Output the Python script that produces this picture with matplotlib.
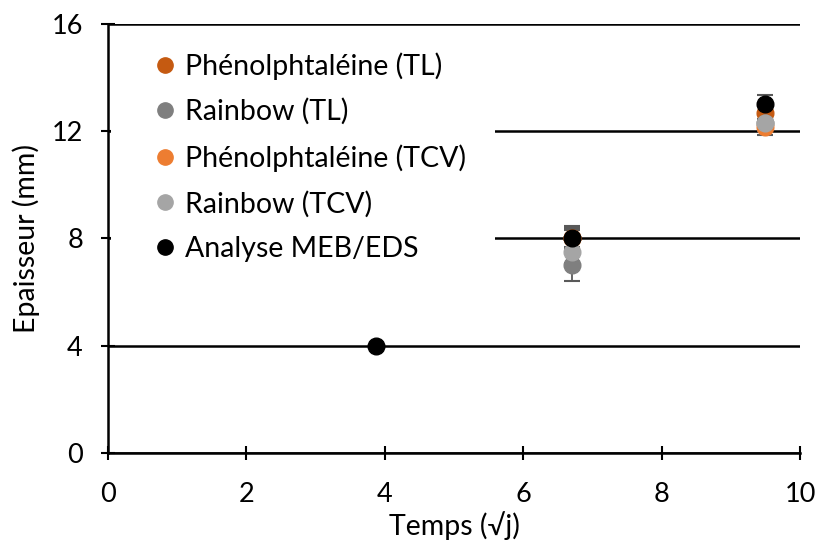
import matplotlib
matplotlib.use("Agg")
import matplotlib.pyplot as plt
from matplotlib.lines import Line2D
from matplotlib.patches import Rectangle
import numpy as np

plt.rcParams['font.family'] = ['Lato', 'DejaVu Sans']

labels = ["Phénolphtaléine (TL)", "Rainbow (TL)", "Phénolphtaléine (TCV)", "Rainbow (TCV)", "Analyse MEB/EDS"]
colors = ["#C55A11", "#7F7F7F", "#ED7D31", "#A5A5A5", "#000000"]

x_tl = [6.71, 9.49]
phen_tl = [8.0, 12.7]
phen_tl_err = [0.4, 0.3]
rain_tl = [7.0, 12.3]
rain_tl_err = [0.6, 0.3]
phen_tcv = [8.0, 12.15]
phen_tcv_err = [0.3, 0.3]
rain_tcv = [7.5, 12.3]
rain_tcv_err = [0.4, 0.3]
x_meb = [3.87, 6.71, 9.49]
meb = [4.0, 8.0, 13.0]
meb_err = [0.0, 0.45, 0.35]

series = [
    (x_tl, phen_tl, phen_tl_err),
    (x_tl, rain_tl, rain_tl_err),
    (x_tl, phen_tcv, phen_tcv_err),
    (x_tl, rain_tcv, rain_tcv_err),
    (x_meb, meb, meb_err),
]

fig = plt.figure(figsize=(8.21, 5.47), dpi=100)
ax = fig.add_axes([0.1315, 0.172, 0.843, 0.784])

handles = []
for (xs, ys, es), lab, c in zip(series, labels, colors):
    ax.errorbar(xs, ys, yerr=es, fmt='o', color=c, ecolor='#595959', elinewidth=1.3,
                capsize=6, capthick=1.5, markersize=12, zorder=3)
    handles.append(Line2D([], [], marker='o', linestyle='none', color=c, markersize=11))

ax.set_xlim(0, 10)
ax.set_ylim(0, 16)
ax.set_xticks(np.arange(0, 11, 2))
ax.set_yticks(np.arange(0, 17, 4))
ax.grid(axis='y', color='black', linewidth=1.8)
ax.set_axisbelow(True)
for s in ['top', 'right']:
    ax.spines[s].set_visible(False)
for s in ['left', 'bottom']:
    ax.spines[s].set_linewidth(1.8)
ax.tick_params(direction='inout', length=10, width=1.5, labelsize=19.5, colors='black')
ax.tick_params(axis='x', pad=16)
ax.tick_params(axis='y', pad=13)
ax.set_xlabel("Temps (√j)", fontsize=20.5, labelpad=3)
ax.set_ylabel("Epaisseur (mm)", fontsize=20.5, labelpad=8)

ax.add_patch(Rectangle((0.004, 0.415), 0.555, 0.571, transform=ax.transAxes,
                       facecolor='white', edgecolor='none', zorder=1))
leg = ax.legend(handles, labels, loc='upper left', bbox_to_anchor=(0.066, 0.935),
                frameon=False, fontsize=20.5, borderpad=0, borderaxespad=0,
                handletextpad=0.3, labelspacing=0.66, handlelength=0.8)
leg.set_zorder(5)

fig.savefig("out.png", dpi=100)
